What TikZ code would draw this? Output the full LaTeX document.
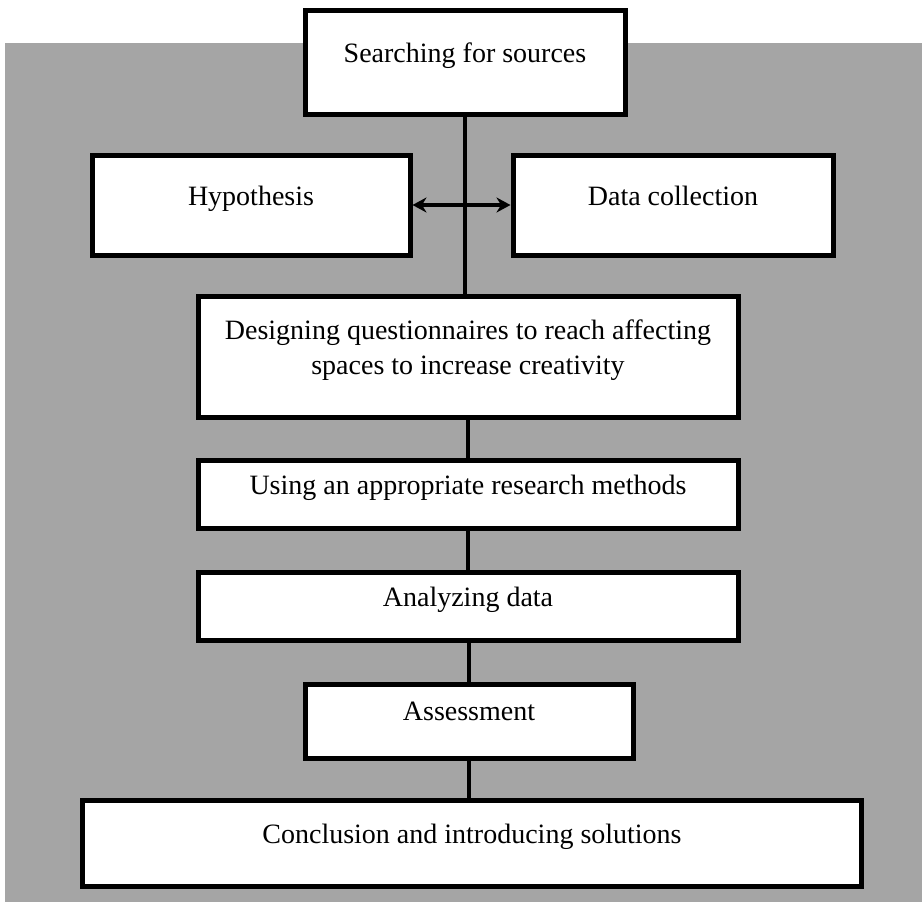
\documentclass[tikz,border=0pt]{standalone}
\usepackage{fontspec}
\setmainfont{Liberation Serif}
\usetikzlibrary{arrows.meta}
\definecolor{bggray}{RGB}{165,165,165}
\tikzset{
  stage/.style={draw, line width=5pt, fill=white, inner sep=0pt, align=center,
    text depth=19pt, font=\fontsize{28}{35}\selectfont},
  link/.style={line width=4pt},
}

\begin{document}
\begin{tikzpicture}[x=1pt,y=-1pt]
        \useasboundingbox (0,0) rectangle (922,902);
        \fill[white] (0,0) rectangle (922,902);
        \fill[bggray] (5,43) rectangle (922,902);

        \node[stage, minimum width=320pt, minimum height=104pt] (search) at (465,62) {Searching for sources};
        \node[stage, minimum width=318pt, minimum height=100pt] (hypo) at (251,205) {Hypothesis};
        \node[stage, minimum width=320pt, minimum height=100pt] (data) at (673,205) {Data collection};
        \node[stage, minimum width=540pt, minimum height=121pt] (design) at (468,357) {Designing questionnaires to reach affecting\\spaces to increase creativity};
        \node[stage, minimum width=540pt, minimum height=68pt] (method) at (468,494) {Using an appropriate research methods};
        \node[stage, minimum width=540pt, minimum height=68pt] (analyze) at (468,606) {Analyzing data};
        \node[stage, minimum width=328pt, minimum height=74pt] (assess) at (469,721) {Assessment};
        \node[stage, minimum width=779pt, minimum height=86pt] (concl) at (472,843) {Conclusion and introducing solutions};

        \draw[link] (search.south) -- (search.south |- design.north);
        \draw[link, {Stealth[length=14pt,width=15pt]}-{Stealth[length=14pt,width=15pt]}] (hypo.east) -- (data.west);
        \draw[link] (design.south) -- (design.south |- method.north);
        \draw[link] (method.south) -- (method.south |- analyze.north);
        \draw[link] (assess.north |- analyze.south) -- (assess.north);
        \draw[link] (assess.south) -- (assess.south |- concl.north);
    \end{tikzpicture}
\end{document}
